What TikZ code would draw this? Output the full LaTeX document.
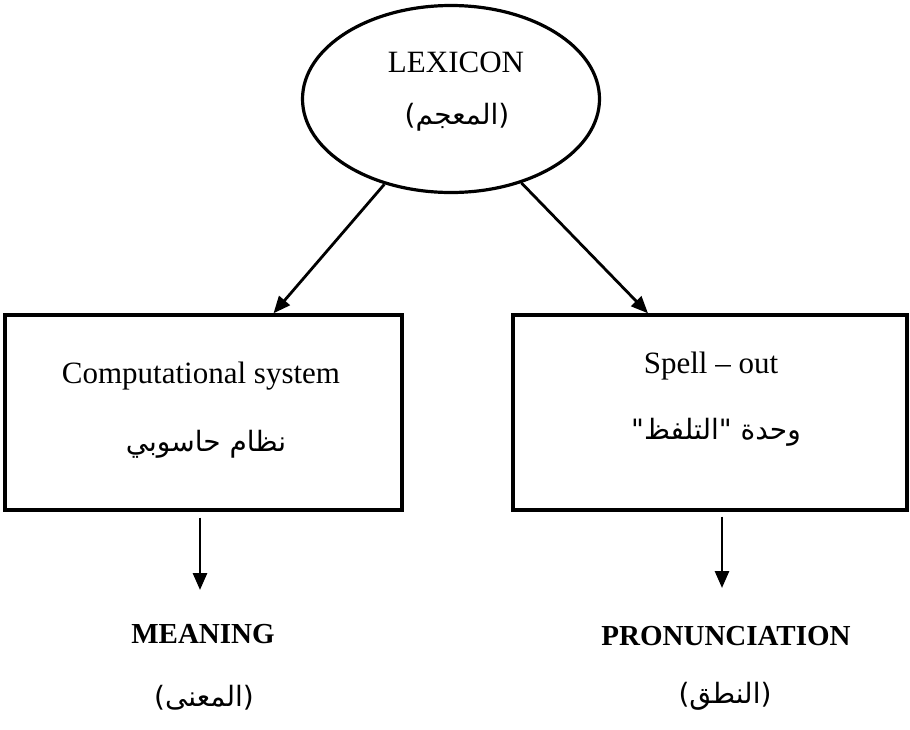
\documentclass[tikz,border=0pt]{standalone}
\usepackage{fontspec}
\setmainfont{Liberation Serif}
\newfontfamily\arabicfont[Script=Arabic]{DejaVu Sans}
\TeXXeTstate=1
\usetikzlibrary{shapes.geometric,arrows.meta}
\begin{document}
\begin{tikzpicture}[x=1pt,y=-1pt,
  entext/.style={font=\fontsize{31}{36}\selectfont, inner sep=0pt, anchor=base},
  bdtext/.style={font=\fontsize{29}{34}\selectfont\bfseries, inner sep=0pt, anchor=base},
  artext/.style={font=\fontsize{28}{34}\selectfont\arabicfont, inner sep=0pt},
  boxstyle/.style={draw, rectangle, line width=3.4pt, inner sep=0pt},
  arr/.style={line width=2.8pt, -{Triangle[length=17pt,width=14pt]}}]
\useasboundingbox (0,0) rectangle (910,729);
\fill[white] (0,0) rectangle (910,729);
% ellipse
\node[draw, ellipse, line width=3.2pt, minimum width=297pt, minimum height=187pt, inner sep=0pt] (lex) at (451,99) {};
\node[entext] (lexen) at (456,72) {LEXICON};
\node[artext] (lexar) at (457,117) {\beginR(المعجم)\endR};
% boxes
\node[boxstyle, minimum width=397pt, minimum height=195pt] (cs) at (203.5,412.5) {};
\node[boxstyle, minimum width=394pt, minimum height=195pt] (sp) at (710,412.5) {};
\node[entext] (csen) at (201,383) {Computational system};
\node[artext] (csar) at (206,444) {\beginR نظام حاسوبي\endR};
\node[entext] (spen) at (711,373) {Spell – out};
\node[artext] (spar) at (716,432) {\beginR وحدة "التلفظ"\endR};
% outputs
\node[bdtext] (mean) at (203,643) {MEANING};
\node[bdtext] (pron) at (726,645) {PRONUNCIATION};
\node[artext] (meanar) at (204,698) {\beginR(المعنى)\endR};
\node[artext] (pronar) at (725,696) {\beginR(النطق)\endR};
% connectors
\coordinate (m1) at (200,590);
\coordinate (p1) at (722,588);
\draw[arr] (lex.232) -- ([xshift=70pt]cs.north);
\draw[arr] (lex.310) -- ([xshift=-62pt]sp.north);
\draw[arr] ([xshift=-3.5pt,yshift=-6pt]cs.south) -- (m1);
\draw[arr] ([xshift=12pt,yshift=-5pt]sp.south) -- (p1);
\end{tikzpicture}
\end{document}
